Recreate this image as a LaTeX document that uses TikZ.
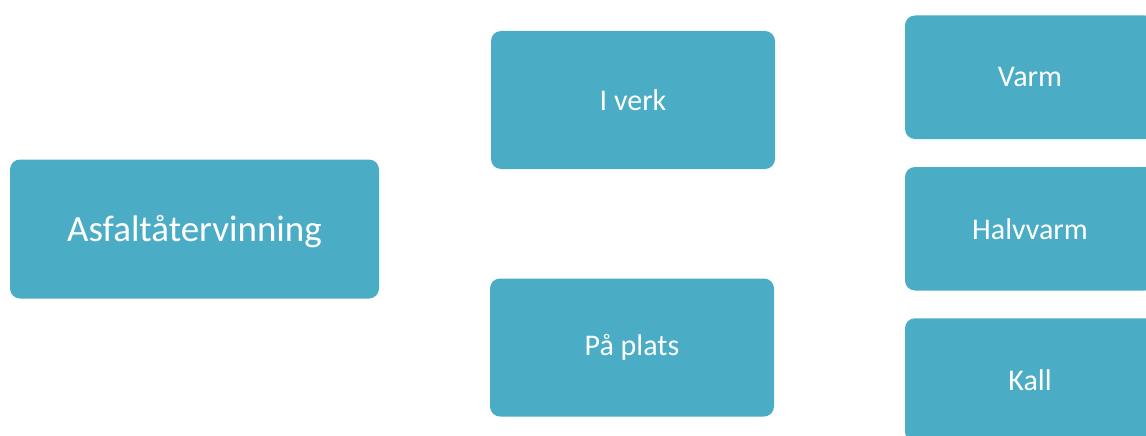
\documentclass[tikz,border=0pt]{standalone}
\usepackage{fontspec}
\setmainfont{Carlito}
\definecolor{boxblue}{HTML}{4BACC6}
\begin{document}
\begin{tikzpicture}[x=1pt,y=-1pt,
  box/.style={fill=boxblue,draw=none,rounded corners=10pt,text=white,inner sep=0pt,align=center},
  big/.style={box,font=\fontsize{37}{44}\selectfont},
  small/.style={box,font=\fontsize{30}{36}\selectfont}]
\useasboundingbox (0,0) rectangle (1146,436);
\node[big,minimum width=369pt,minimum height=139pt] (root) at (194.5,229) {\raisebox{-3pt}[\height][\depth]{Asfaltåtervinning}};
\node[small,minimum width=284pt,minimum height=138pt] (verk) at (633,100) {I verk};
\node[small,minimum width=284pt,minimum height=138pt] (plats) at (632,347.5) {På plats};
\node[small,minimum width=250pt,minimum height=123.5pt] (varm) at (1030,77.25) {Varm};
\node[small,minimum width=250pt,minimum height=123.5pt] (halv) at (1030,228.75) {Halvvarm};
\node[small,minimum width=250pt,minimum height=123.5pt] (kall) at (1030,380) {Kall};
\end{tikzpicture}
\end{document}
